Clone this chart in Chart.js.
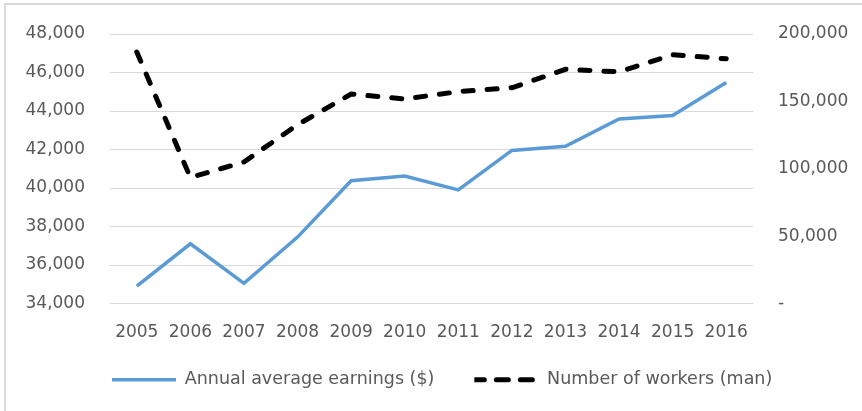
<!DOCTYPE html>
<html>
<head>
<meta charset="utf-8">
<script src="https://cdn.jsdelivr.net/npm/chart.js@4.4.1/dist/chart.umd.min.js"></script>
<style>
	html, body { margin: 0; padding: 0; overflow: hidden; background: #fff; }
	#wrap { position: relative; width: 862px; height: 411px; }
	#frame { position: absolute; left: 4px; top: 3px; width: 900px; height: 450px; border: 2px solid #d9d9d9; }
	#earningsChart { position: absolute; left: 0; top: 0; }
</style>
</head>
<body>
<div id="wrap">
	<div id="frame"></div>
	<canvas id="earningsChart" width="862" height="411"></canvas>
</div>
<script>
const years = ["2005", "2006", "2007", "2008", "2009", "2010", "2011", "2012", "2013", "2014", "2015", "2016"];
const earnings = [34900, 37100, 35050, 37450, 40380, 40620, 39900, 41950, 42170, 43590, 43770, 45480];
const workers = [186600, 93500, 105000, 132700, 155400, 151800, 157200, 160100, 173800, 171900, 184600, 181600];
const earningsTicks = [34000, 48000, 2000];
const workersTicks = [0, 200000, 50000];

const labelColor = "#595959";
const fontFamily = "'DejaVu Sans', sans-serif";

function fmt(value) {
	return value.toLocaleString("en-US");
}

// the legend sits left of centre and closer to the axis than chart.js would put it
const legendShift = {
	id: "legendShift",
	afterLayout(chart) {
		const legend = chart.legend;
		const h = legend.bottom - legend.top;
		legend.left = 72;
		legend.top = chart.chartArea.bottom + 27.5;
		legend.bottom = legend.top + h;
	},
};

// wide tick padding would otherwise push the plot area down
function fitSide(width) {
	return (scale) => {
		scale.width = width;
		scale.paddingTop = 10;
		scale.paddingBottom = 10;
	};
}

function earningsChart() {
	const ctx = document.getElementById("earningsChart").getContext("2d");
	return new Chart(ctx, {
		type: "line",
		data: {
			labels: years,
			datasets: [
				{
					label: "Annual average earnings ($)",
					data: earnings,
					yAxisID: "y",
					borderColor: "#5b9bd5",
					backgroundColor: "#5b9bd5",
					borderWidth: 3.5,
					pointRadius: 0,
					tension: 0,
				},
				{
					label: "Number of workers (man)",
					data: workers,
					yAxisID: "y1",
					borderColor: "#000000",
					backgroundColor: "#000000",
					borderWidth: 5,
					borderDash: [10, 14],
					borderCapStyle: "round",
					pointRadius: 0,
					tension: 0,
				},
			],
		},
		plugins: [legendShift],
		options: {
			responsive: false,
			animation: false,
			layout: {
				padding: { left: 20, right: 12, top: 34, bottom: -18.4 },
			},
			plugins: {
				tooltip: { enabled: false },
				legend: {
					position: "bottom",
					align: "start",
					labels: {
						boxWidth: 64,
						boxHeight: 0,
						padding: 40,
						color: labelColor,
						font: { family: fontFamily, size: 17.5 },
					},
				},
			},
			scales: {
				x: {
					offset: true,
					grid: { display: false, drawTicks: false },
					border: { display: false },
					ticks: {
						color: labelColor,
						padding: 19,
						maxRotation: 0,
						font: { family: fontFamily, size: 17 },
					},
				},
				y: {
					position: "left",
					min: earningsTicks[0],
					max: earningsTicks[1],
					grid: { color: "#d9d9d9", lineWidth: 1, drawTicks: false },
					border: { display: false },
					ticks: {
						stepSize: earningsTicks[2],
						color: labelColor,
						padding: 25,
						font: { family: fontFamily, size: 17 },
						callback: (value) => fmt(value),
					},
					afterFit: fitSide(90),
				},
				y1: {
					position: "right",
					min: workersTicks[0],
					max: workersTicks[1],
					grid: { display: false, drawTicks: false },
					border: { display: false },
					ticks: {
						stepSize: workersTicks[2],
						color: labelColor,
						padding: 25,
						font: { family: fontFamily, size: 17 },
						callback: (value) => (value === 0 ? "-" : fmt(value)),
					},
					afterFit: fitSide(97),
				},
			},
		},
	});
}

earningsChart();
</script>
</body>
</html>
